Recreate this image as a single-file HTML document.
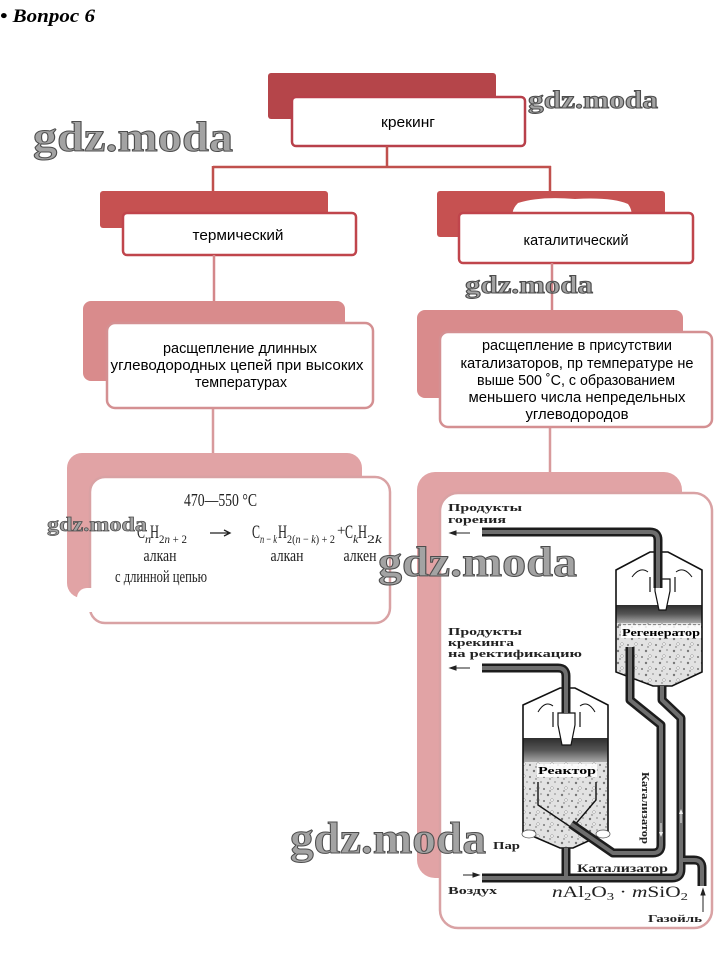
<!DOCTYPE html>
<html><head><meta charset="utf-8"><style>
html,body{margin:0;padding:0;background:#fff;}
svg{display:block;}
</style></head><body>
<svg width="714" height="965" viewBox="0 0 714 965" xmlns="http://www.w3.org/2000/svg">
<defs>
  <pattern id="dots" width="14" height="12" patternUnits="userSpaceOnUse">
    <rect width="14" height="12" fill="#e2e2e2"/>
    <circle cx="2" cy="3" r="1.2" fill="#777"/>
    <circle cx="9" cy="2" r="0.9" fill="#999"/>
    <circle cx="6" cy="8" r="1.3" fill="#fff" stroke="#888" stroke-width="0.5"/>
    <circle cx="12" cy="9" r="1" fill="#777"/>
    <circle cx="4" cy="11" r="0.7" fill="#666"/>
  </pattern>
  <linearGradient id="band" x1="0" y1="0" x2="0" y2="1">
    <stop offset="0" stop-color="#2e2e2e"/>
    <stop offset="0.5" stop-color="#555"/>
    <stop offset="1" stop-color="#a8a8a8"/>
  </linearGradient>
  <clipPath id="clipR"><polygon points="523,705 560,688 575,688 608,705 608,832 573,848 560,848 523,832"/></clipPath>
  <clipPath id="clipG"><polygon points="616,570 650,552 668,552 702,570 702,672 672,686 653,686 616,672"/></clipPath>
</defs>

<!-- Title -->
<text x="0" y="22" font-family="Liberation Serif, serif" font-weight="bold" font-style="italic" font-size="19" textLength="95" lengthAdjust="spacingAndGlyphs" fill="#000">• Вопрос 6</text>

<!-- Level 1 -->
<rect x="268" y="73" width="228" height="46" rx="3" fill="#b5454a"/>
<rect x="292" y="97" width="233" height="49" rx="4" fill="#fff" stroke="#b8404a" stroke-width="2.5"/>
<text x="408" y="127" font-family="Liberation Sans, sans-serif" font-size="15" text-anchor="middle" textLength="54" lengthAdjust="spacingAndGlyphs">крекинг</text>

<!-- connectors level 1 -> 2 -->
<g stroke="#c0504d" stroke-width="2.5" fill="none">
  <path d="M387,146 V167 M213,167 H551 M213,166 V191 M550,166 V191"/>
</g>

<!-- Level 2 left -->
<rect x="100" y="191" width="228" height="37" rx="3" fill="#c65151"/>
<rect x="123" y="213" width="233" height="42" rx="4" fill="#fff" stroke="#c0454c" stroke-width="2.5"/>
<text x="238" y="240" font-family="Liberation Sans, sans-serif" font-size="15" text-anchor="middle" textLength="91" lengthAdjust="spacingAndGlyphs">термический</text>

<!-- Level 2 right -->
<rect x="437" y="191" width="228" height="46" rx="3" fill="#c65151"/>
<path d="M518,203 Q540,196 575,199 Q612,197 628,204 Q634,212 630,221 L515,221 Q509,212 518,203 Z" fill="#fff"/>
<rect x="459" y="213" width="234" height="50" rx="4" fill="#fff" stroke="#c0454c" stroke-width="2.5"/>
<text x="576" y="245" font-family="Liberation Sans, sans-serif" font-size="15" text-anchor="middle" textLength="105" lengthAdjust="spacingAndGlyphs">каталитический</text>

<!-- connectors level 2 -> 3 -> 4 -->
<g stroke="#d4878a" stroke-width="2.5" fill="none">
  <path d="M214,255 V301 M552,263 V310"/>
</g>
<g stroke="#d89a9c" stroke-width="2.5" fill="none">
  <path d="M213,408 V453 M550,427 V472"/>
</g>

<!-- Level 3 left -->
<rect x="83" y="301" width="262" height="80" rx="8" fill="#d98b8c"/>
<rect x="107" y="323" width="266" height="85" rx="8" fill="#fff" stroke="#d49092" stroke-width="2.5"/>
<g font-family="Liberation Sans, sans-serif" font-size="15" text-anchor="middle">
  <text x="240" y="353" textLength="154" lengthAdjust="spacingAndGlyphs">расщепление длинных</text>
  <text x="237" y="370" textLength="253" lengthAdjust="spacingAndGlyphs">углеводородных цепей при высоких</text>
  <text x="241" y="387" textLength="92" lengthAdjust="spacingAndGlyphs">температурах</text>
</g>

<!-- Level 3 right -->
<rect x="417" y="310" width="266" height="88" rx="8" fill="#d98b8c"/>
<rect x="440" y="332" width="272" height="95" rx="8" fill="#fff" stroke="#d49092" stroke-width="2.5"/>
<g font-family="Liberation Sans, sans-serif" font-size="15" text-anchor="middle">
  <text x="577" y="350" textLength="190" lengthAdjust="spacingAndGlyphs">расщепление в присутствии</text>
  <text x="577" y="368" textLength="233" lengthAdjust="spacingAndGlyphs">катализаторов, пр температуре не</text>
  <text x="576" y="385" textLength="198" lengthAdjust="spacingAndGlyphs">выше 500 ˚С, с образованием</text>
  <text x="577" y="402" textLength="217" lengthAdjust="spacingAndGlyphs">меньшего числа  непредельных</text>
  <text x="577" y="419" textLength="103" lengthAdjust="spacingAndGlyphs">углеводородов</text>
</g>

<!-- Level 4 left -->
<rect x="67" y="453" width="295" height="145" rx="15" fill="#e1a3a5"/>
<rect x="90" y="477" width="300" height="146" rx="15" fill="#fff" stroke="#d9a2a4" stroke-width="2.5"/>
<rect x="77" y="588" width="30" height="24" rx="10" fill="#fff"/>
<g font-family="Liberation Serif, serif" fill="#222">
  <text x="184" y="506" font-size="18" textLength="73" lengthAdjust="spacingAndGlyphs">470—550 °C</text>
  <text x="137" y="538" font-size="19" textLength="8" lengthAdjust="spacingAndGlyphs">C</text>
  <text x="145" y="543" font-size="12" font-style="italic">n</text>
  <text x="150" y="538" font-size="19" textLength="9" lengthAdjust="spacingAndGlyphs">H</text>
  <text x="159" y="543" font-size="12" textLength="28" lengthAdjust="spacingAndGlyphs">2<tspan font-style="italic">n</tspan> + 2</text>
  <text x="252" y="538" font-size="19" textLength="8" lengthAdjust="spacingAndGlyphs">C</text>
  <text x="260" y="543" font-size="12" textLength="17" lengthAdjust="spacingAndGlyphs"><tspan font-style="italic">n</tspan> − <tspan font-style="italic">k</tspan></text>
  <text x="278" y="538" font-size="19" textLength="9" lengthAdjust="spacingAndGlyphs">H</text>
  <text x="287" y="543" font-size="12" textLength="48" lengthAdjust="spacingAndGlyphs">2(<tspan font-style="italic">n</tspan> − <tspan font-style="italic">k</tspan>) + 2</text>
  <text x="337" y="535" font-size="15">+</text>
  <text x="345" y="538" font-size="19" textLength="8" lengthAdjust="spacingAndGlyphs">C</text>
  <text x="353" y="543" font-size="12" font-style="italic">k</text>
  <text x="358" y="538" font-size="19" textLength="9" lengthAdjust="spacingAndGlyphs">H</text>
  <text x="367" y="543" font-size="12" textLength="15" lengthAdjust="spacingAndGlyphs">2<tspan font-style="italic">k</tspan></text>
  <text x="160" y="561" font-size="17" text-anchor="middle" textLength="33" lengthAdjust="spacingAndGlyphs">алкан</text>
  <text x="287" y="561" font-size="17" text-anchor="middle" textLength="33" lengthAdjust="spacingAndGlyphs">алкан</text>
  <text x="360" y="561" font-size="17" text-anchor="middle" textLength="33" lengthAdjust="spacingAndGlyphs">алкен</text>
  <text x="161" y="582" font-size="17" text-anchor="middle" textLength="92" lengthAdjust="spacingAndGlyphs">с длинной цепью</text>
</g>
<path d="M210,533 H229 M224,530 L230,533 L224,536" stroke="#222" stroke-width="1.3" fill="none"/>

<!-- Level 4 right -->
<rect x="417" y="472" width="265" height="406" rx="18" fill="#e1a3a5"/>
<rect x="440" y="493" width="272" height="435" rx="18" fill="#fff" stroke="#d9a2a4" stroke-width="2.5"/>

<!-- Regenerator -->
<polygon points="616,570 650,552 668,552 702,570 702,672 672,686 653,686 616,672" fill="#fff"/>
<g clip-path="url(#clipG)">
  <rect x="610" y="605" width="100" height="18" fill="url(#band)"/>
  <rect x="610" y="623" width="100" height="70" fill="url(#dots)"/>
</g>
<polygon points="616,570 650,552 668,552 702,570 702,672 672,686 653,686 616,672" fill="none" stroke="#111" stroke-width="1.6"/>
<path d="M618,625 H700" stroke="#333" stroke-width="1" stroke-dasharray="3,2"/>
<rect x="621" y="625" width="80" height="13" fill="#fff" opacity="0.85"/>
<text x="661" y="636" font-family="Liberation Serif, serif" font-weight="bold" font-size="11" text-anchor="middle" textLength="78" lengthAdjust="spacingAndGlyphs">Регенератор</text>
<!-- regenerator cyclone -->
<path d="M655,579 H670 V591 L666,610 H659 L655,591 Z" fill="#fff" stroke="#111" stroke-width="1.2"/>
<path d="M650,577 V592 M675,577 V592" stroke="#111" stroke-width="1.2"/>
<path d="M632,577 Q640,566 648,572 M692,577 Q684,566 676,572" stroke="#111" stroke-width="1" fill="none"/>

<!-- Reactor -->
<polygon points="523,705 560,688 575,688 608,705 608,832 573,848 560,848 523,832" fill="#fff"/>
<g clip-path="url(#clipR)">
  <rect x="520" y="738" width="92" height="24" fill="url(#band)"/>
  <rect x="520" y="762" width="92" height="90" fill="url(#dots)"/>
</g>
<polygon points="523,705 560,688 575,688 608,705 608,832 573,848 560,848 523,832" fill="none" stroke="#111" stroke-width="1.6"/>
<rect x="537" y="764" width="60" height="13" fill="#fff" opacity="0.85"/>
<text x="567" y="774" font-family="Liberation Serif, serif" font-weight="bold" font-size="11" text-anchor="middle" textLength="58" lengthAdjust="spacingAndGlyphs">Реактор</text>
<path d="M538,782 V805 L587,838 M596,782 V800 L573,827" stroke="#111" stroke-width="1.4" fill="none"/>
<path d="M558,713 H575 V725 L571,745 H562 L558,725 Z" fill="#fff" stroke="#111" stroke-width="1.2"/>
<path d="M553,712 V727 M580,712 V727" stroke="#111" stroke-width="1.2"/>
<path d="M538,712 Q545,700 553,706 M595,712 Q588,700 580,706" stroke="#111" stroke-width="1" fill="none"/>
<ellipse cx="529" cy="834" rx="7" ry="4" fill="#fff" stroke="#555" stroke-width="0.8"/>
<ellipse cx="603" cy="834" rx="7" ry="4" fill="#fff" stroke="#555" stroke-width="0.8"/>

<!-- Pipes -->
<g fill="none" stroke-linejoin="round">
  <g stroke="#1c1c1c" stroke-width="9">
    <path d="M482,532 H650 Q658,532 658,540 V588"/>
    <path d="M482,668 H558 Q566,668 566,676 V713"/>
    <path d="M630,647 V700 L661,725 V845 Q661,853 653,853 H613 L571,824"/>
    <path d="M482,878 H672 Q681,878 681,869 V718 L662,700 V686"/>
    <path d="M681,860 H694 Q702,860 702,868 V886"/>
    <path d="M566,848 V878"/>
  </g>
  <g stroke="#6e6e6e" stroke-width="4">
    <path d="M482,532 H650 Q658,532 658,540 V588"/>
    <path d="M482,668 H558 Q566,668 566,676 V713"/>
    <path d="M630,647 V700 L661,725 V845 Q661,853 653,853 H613 L571,824"/>
    <path d="M482,878 H672 Q681,878 681,869 V718 L662,700 V686"/>
    <path d="M681,860 H694 Q702,860 702,868 V886"/>
    <path d="M566,848 V878"/>
  </g>
</g>

<!-- small arrows -->
<g stroke="#222" stroke-width="1" fill="#222">
  <path d="M452,533 H470" fill="none"/><path d="M450,533 L456,531 L456,535 Z"/>
  <path d="M452,668 H470" fill="none"/><path d="M450,668 L456,666 L456,670 Z"/>
  <path d="M463,875 H476" fill="none"/><path d="M479,875 L473,873 L473,877 Z"/>
  <path d="M703,912 V893" fill="none"/><path d="M703,889 L701,895 L705,895 Z"/>
  <path d="M661,823 V833" stroke="#eee" fill="none"/><path d="M661,837 L659,832 L663,832 Z" fill="#eee" stroke="none"/>
  <path d="M681,823 V813" stroke="#eee" fill="none"/><path d="M681,809 L679,814 L683,814 Z" fill="#eee" stroke="none"/>
</g>

<!-- diagram labels -->
<g font-family="Liberation Serif, serif" font-weight="bold" fill="#222" font-size="11">
  <text x="448" y="511" textLength="74" lengthAdjust="spacingAndGlyphs">Продукты</text>
  <text x="448" y="523" textLength="58" lengthAdjust="spacingAndGlyphs">горения</text>
  <text x="448" y="635" textLength="74" lengthAdjust="spacingAndGlyphs">Продукты</text>
  <text x="448" y="646" textLength="66" lengthAdjust="spacingAndGlyphs">крекинга</text>
  <text x="448" y="657" textLength="134" lengthAdjust="spacingAndGlyphs">на ректификацию</text>
  <text x="493" y="849" textLength="27" lengthAdjust="spacingAndGlyphs">Пар</text>
  <text x="448" y="894" textLength="49" lengthAdjust="spacingAndGlyphs">Воздух</text>
  <text x="577" y="872" font-size="12" textLength="91" lengthAdjust="spacingAndGlyphs">Катализатор</text>
  <text x="648" y="922" textLength="54" lengthAdjust="spacingAndGlyphs">Газойль</text>
  <text transform="translate(642,772) rotate(90)" x="0" y="0" textLength="72" lengthAdjust="spacingAndGlyphs">Катализатор</text>
</g>
<text x="552" y="897" font-family="Liberation Serif, serif" font-size="16" fill="#222" textLength="136" lengthAdjust="spacingAndGlyphs"><tspan font-style="italic">n</tspan>Al<tspan font-size="11" dy="3">2</tspan><tspan dy="-3">O</tspan><tspan font-size="11" dy="3">3</tspan><tspan dy="-3"> · </tspan><tspan font-style="italic">m</tspan>SiO<tspan font-size="11" dy="3">2</tspan></text>

<!-- Watermarks -->
<g font-family="Liberation Serif, serif" font-weight="bold" fill="#a3a3a3" stroke="#4d4d4d" stroke-width="1">
  <text x="33" y="151" font-size="42" textLength="200" lengthAdjust="spacingAndGlyphs">gdz.moda</text>
  <text x="528" y="108" font-size="25" textLength="130" lengthAdjust="spacingAndGlyphs">gdz.moda</text>
  <text x="465" y="293" font-size="25" textLength="128" lengthAdjust="spacingAndGlyphs">gdz.moda</text>
  <text x="47" y="531" font-size="20" textLength="100" lengthAdjust="spacingAndGlyphs" stroke-width="0.7">gdz.moda</text>
  <text x="378" y="576" font-size="42" textLength="199" lengthAdjust="spacingAndGlyphs">gdz.moda</text>
  <text x="290" y="853" font-size="44" textLength="196" lengthAdjust="spacingAndGlyphs">gdz.moda</text>
</g>
</svg>
</body></html>
